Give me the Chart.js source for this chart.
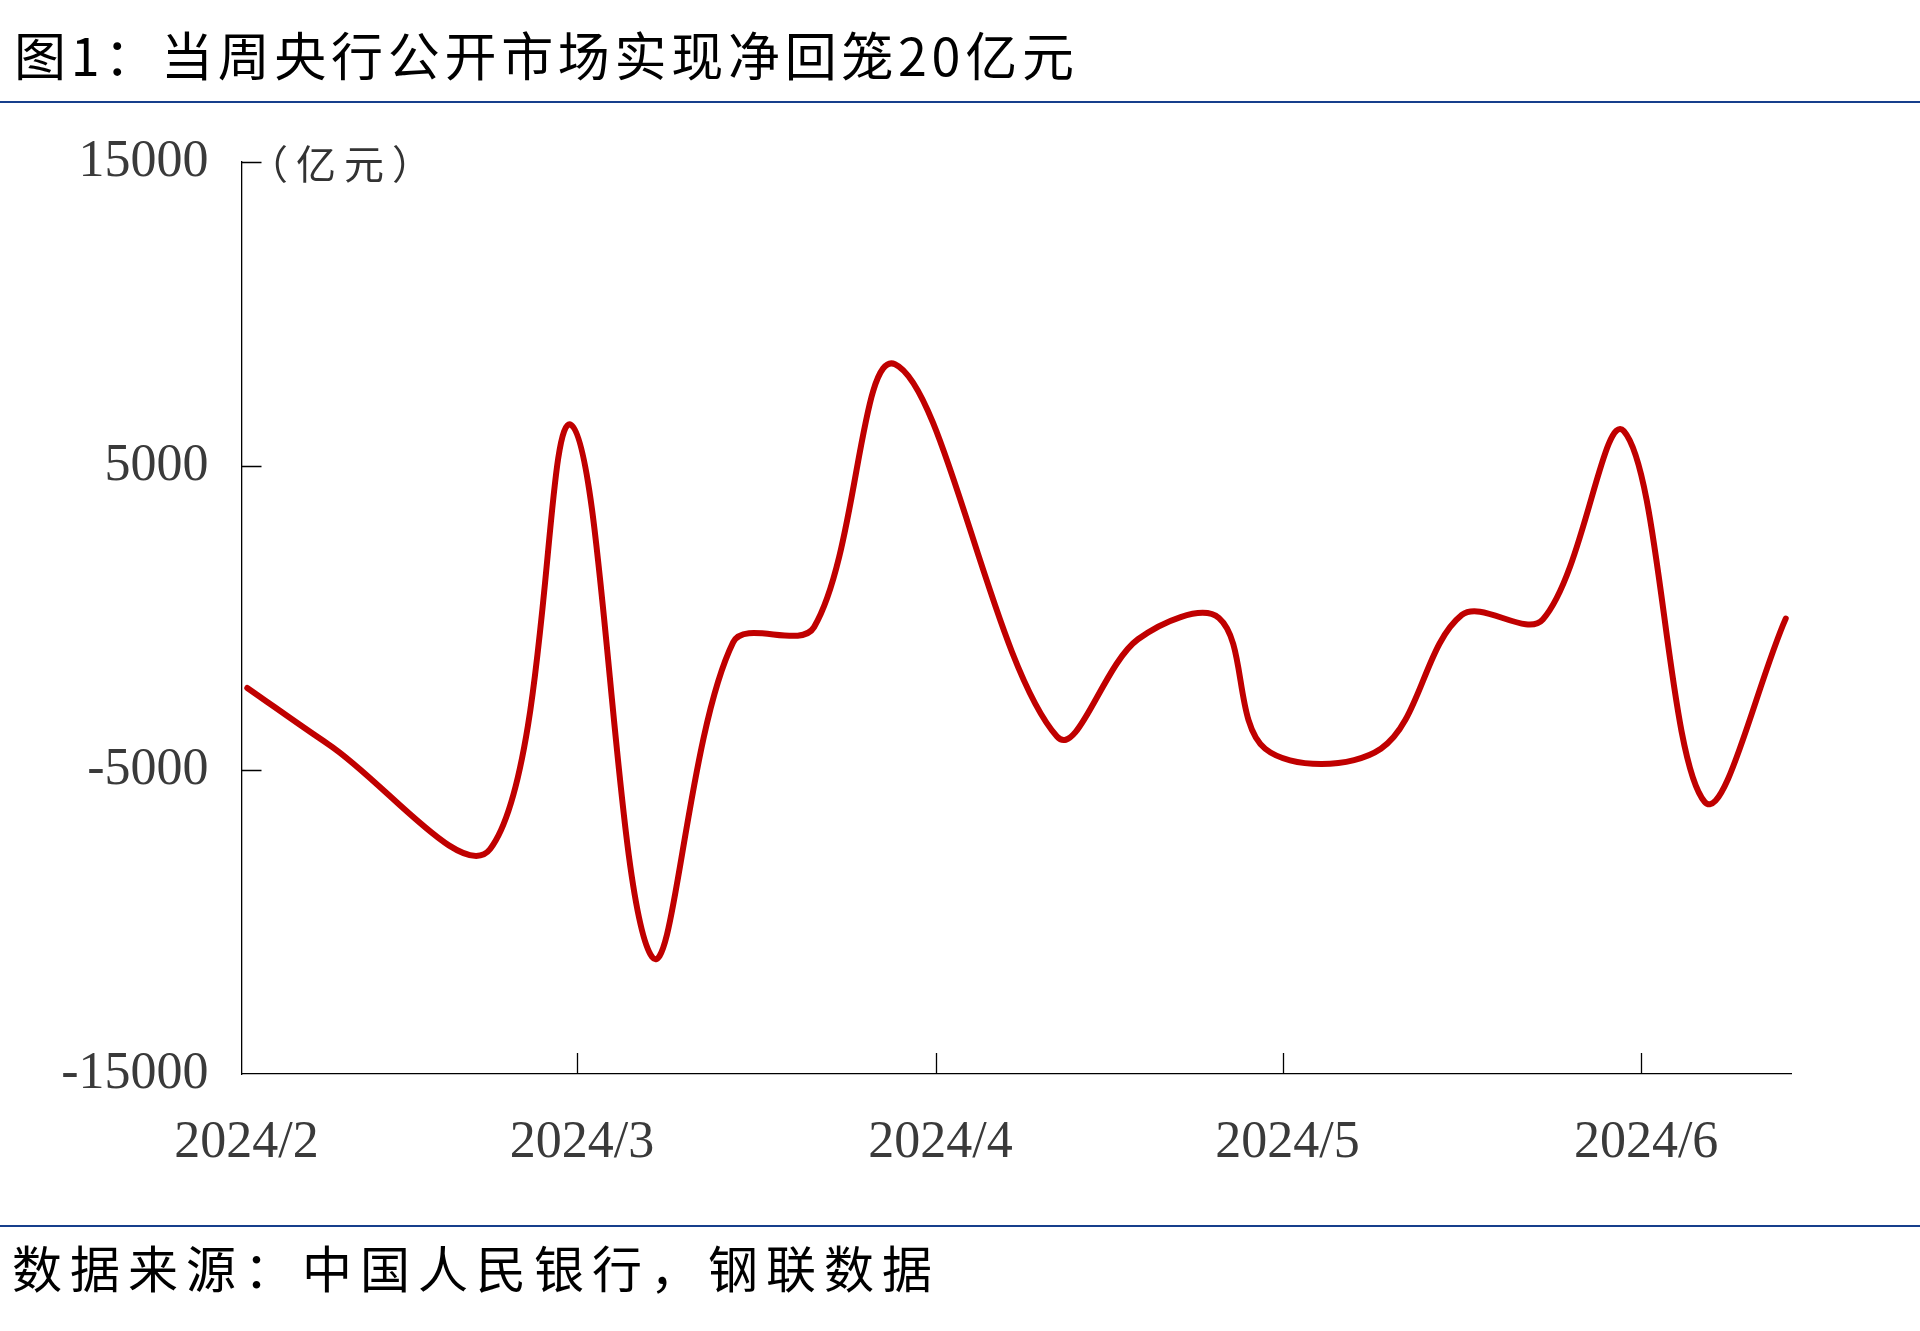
<!DOCTYPE html>
<html>
<head>
<meta charset="utf-8">
<script src="https://cdn.jsdelivr.net/npm/chart.js@4.4.1/dist/chart.umd.min.js"></script>
<style>
  html, body { margin: 0; padding: 0; background: #ffffff; }
  body { width: 1920px; height: 1331px; position: relative; overflow: hidden; }
  #chart { position: absolute; left: 0; top: 0; }
  .title { position: absolute; left: 14px; top: 22px; font-family: "Noto Sans CJK SC", sans-serif; font-size: 52px; line-height: 64px; letter-spacing: 4.7px; color: #000; white-space: nowrap; }
  .source { position: absolute; left: 12px; top: 1234px; font-family: "Noto Sans CJK SC", sans-serif; font-size: 50px; line-height: 64px; letter-spacing: 8px; color: #000; white-space: nowrap; }
  .rule { position: absolute; left: 0; width: 1920px; height: 2px; background: #163f8c; }
  .unit { position: absolute; left: 248px; top: 137px; font-family: "Noto Sans CJK SC", sans-serif; font-size: 40px; line-height: 50px; letter-spacing: 8px; color: #333; white-space: nowrap; }
</style>
</head>
<body>
<canvas id="chart" width="1920" height="1331"></canvas>
<div class="title">图1：当周央行公开市场实现净回笼20亿元</div>
<div class="rule" style="top:101px"></div>
<div class="rule" style="top:1225px"></div>
<div class="unit">（亿元）</div>
<div class="source">数据来源：中国人民银行，钢联数据</div>
<script>
// Week-ending dates (holiday weeks follow the adjusted working calendar) and net injection (亿元)
const weekDates = [
  "2024-02-02","2024-02-09","2024-02-23","2024-03-01","2024-03-08",
  "2024-03-15","2024-03-22","2024-03-29","2024-04-12","2024-04-19",
  "2024-04-26","2024-04-30","2024-05-10","2024-05-17","2024-05-24",
  "2024-05-31","2024-06-07","2024-06-14"
];
const netInjection = [
  -2300, -4150, -7600, 6350, -11150,
  -800, -300, 8350, -3900, -700,
  0, -4300, -4300, 100, -50,
  6150, -6050, -20
];
const monthStarts = ["2024-02-01","2024-03-01","2024-04-01","2024-05-01","2024-06-01"];
const monthLabels = ["2024/2","2024/3","2024/4","2024/5","2024/6"];
const axisStartDate = "2024-02-01";
const axisEndDate = "2024-06-14";
const yTickValues = [-15000, -5000, 5000, 15000];

const DAY = 86400000;
const origin = Date.UTC(2024, 1, 1);
function dayOf(s) { const [y, m, d] = s.split("-").map(Number); return (Date.UTC(y, m - 1, d) - origin) / DAY; }
// date axis: each day is a slot, month marks sit on the slot boundary after the 1st
const points = weekDates.map((d, i) => ({ x: dayOf(d), y: netInjection[i] }));
const monthTickDays = monthStarts.map(s => dayOf(s) + 0.5);

const tickMarks = {
  id: "tickMarks",
  afterDraw(chart) {
    const { ctx } = chart;
    const xs = chart.scales.x, ys = chart.scales.y;
    ctx.save();
    ctx.strokeStyle = "#000";
    ctx.lineWidth = 1.3;
    ctx.beginPath();
    yTickValues.forEach(v => {
      if (v === ys.min) return;
      const py = Math.round(ys.getPixelForValue(v)) + 0.5;
      ctx.moveTo(xs.left, py); ctx.lineTo(xs.left + 20, py);
    });
    monthTickDays.forEach((d, i) => {
      if (i === 0) return;
      const px = Math.round(xs.getPixelForValue(d)) + 0.5;
      ctx.moveTo(px, ys.bottom); ctx.lineTo(px, ys.bottom - 21);
    });
    ctx.stroke();
    ctx.restore();
  }
};

new Chart(document.getElementById("chart"), {
  type: "line",
  data: {
    datasets: [{
      data: points,
      borderColor: "#C00000",
      borderWidth: 6,
      pointRadius: 0,
      tension: 0.35,
      borderCapStyle: "round",
      borderJoinStyle: "round",
      fill: false
    }]
  },
  options: {
    responsive: false,
    animation: false,
    devicePixelRatio: 1,
    layout: { padding: { top: 162, right: 128.5, bottom: 137, left: 0 } },
    plugins: { legend: { display: false }, tooltip: { enabled: false } },
    scales: {
      x: {
        type: "linear",
        min: dayOf(axisStartDate) + 0.5,
        max: dayOf(axisEndDate) + 0.5,
        afterBuildTicks(scale) { scale.ticks = monthTickDays.map(v => ({ value: v })); },
        afterFit(scale) { scale.height = 120; },
        grid: { display: false, drawTicks: false },
        border: { display: true, color: "#000", width: 1.3 },
        ticks: {
          autoSkip: false,
          maxRotation: 0,
          padding: 38,
          labelOffset: 5,
          color: "#3a3a3a",
          font: { family: "Liberation Serif", size: 52 },
          callback(value) { const i = monthTickDays.indexOf(value); return i >= 0 ? monthLabels[i] : ""; }
        }
      },
      y: {
        min: -15000,
        max: 15000,
        afterBuildTicks(scale) { scale.ticks = yTickValues.map(v => ({ value: v })); },
        afterFit(scale) { scale.width = 241.5; },
        grid: { display: false, drawTicks: false },
        border: { display: true, color: "#000", width: 1.3 },
        ticks: {
          padding: 33,
          color: "#3a3a3a",
          font: { family: "Liberation Serif", size: 52 },
          callback(value) { return String(value); }
        }
      }
    }
  },
  plugins: [tickMarks]
});
</script>
</body>
</html>
